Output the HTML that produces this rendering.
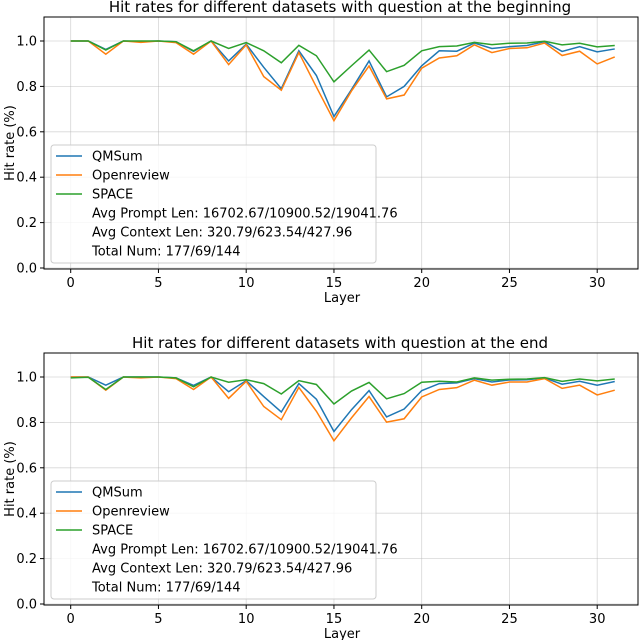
<!DOCTYPE html>
<html><head><meta charset="utf-8"><style>
body{margin:0;background:#fff}
svg{display:block;font-family:"DejaVu Sans","Liberation Sans",sans-serif}
</style></head><body>
<svg id="c" width="640" height="640"></svg>
<script>
const layers=[...Array(32).keys()];
const xTicks=[0,5,10,15,20,25,30];
const yTicks=[0,0.2,0.4,0.6,0.8,1.0];
const seriesNames=["QMSum","Openreview","SPACE"];
const colors=["#1f77b4","#ff7f0e","#2ca02c"];
const legendExtra=["Avg Prompt Len: 16702.67/10900.52/19041.76","Avg Context Len: 320.79/623.54/427.96","Total Num: 177/69/144"];
const begQMSum=[1,1,0.963,1,0.998,1,0.997,0.954,1,0.912,0.986,0.884,0.79,0.957,0.848,0.667,0.786,0.912,0.754,0.80,0.891,0.957,0.955,0.991,0.967,0.975,0.98,0.997,0.954,0.975,0.952,0.965];
const begOpen=[1,1,0.942,1,0.994,1,0.993,0.942,1,0.896,0.983,0.843,0.783,0.949,0.797,0.649,0.78,0.89,0.745,0.762,0.88,0.925,0.935,0.983,0.949,0.967,0.97,0.991,0.936,0.955,0.899,0.93];
const begSpace=[1,1,0.96,1,1,1,0.997,0.957,1,0.967,0.993,0.957,0.904,0.981,0.935,0.82,0.891,0.96,0.865,0.893,0.957,0.975,0.978,0.994,0.984,0.99,0.991,0.999,0.983,0.99,0.974,0.98];
const endQMSum=[1,1,0.964,1,1,1,0.996,0.963,1,0.935,0.984,0.914,0.846,0.971,0.902,0.76,0.856,0.94,0.824,0.859,0.94,0.971,0.974,0.993,0.978,0.987,0.988,0.996,0.968,0.981,0.964,0.98];
const endOpen=[1,1,0.942,1,0.996,1,0.993,0.945,1,0.906,0.981,0.87,0.812,0.954,0.849,0.719,0.82,0.914,0.801,0.816,0.912,0.945,0.953,0.986,0.964,0.978,0.978,0.993,0.95,0.964,0.921,0.942];
const endSpace=[0.996,0.999,0.945,1,1,1,0.996,0.957,1,0.977,0.988,0.971,0.925,0.984,0.967,0.881,0.938,0.976,0.904,0.927,0.977,0.981,0.978,0.996,0.986,0.99,0.991,0.997,0.981,0.991,0.983,0.991];

const NS="http://www.w3.org/2000/svg";
const svg=document.getElementById('c');
function mk(tag,attrs,parent){const e=document.createElementNS(NS,tag);for(const k in attrs)e.setAttribute(k,attrs[k]);(parent||svg).appendChild(e);return e;}

function chart(top,title,data,key){
  const L=44,R=638,T=top,B=top+252;
  const x0=70.7,dx=17.55;
  const X=v=>x0+v*dx;
  const Y=v=>B-1-v*227;
  const g=mk('g',{});
  
  
  xTicks.forEach(t=>{const l=mk('line',{x1:X(t),x2:X(t),y1:T,y2:B,stroke:'#b0b0b0','stroke-width':0.8,opacity:0.5},g);});
  yTicks.forEach(t=>{const l=mk('line',{x1:L,x2:R,y1:Y(t),y2:Y(t),stroke:'#b0b0b0','stroke-width':0.8,opacity:0.5},g);});
  data.forEach((d,i)=>{
    const p=mk('polyline',{points:d.map((v,j)=>X(layers[j])+','+Y(v)).join(' '),fill:'none',stroke:colors[i],'stroke-width':1.5},g);
    
    
  });
  const fr=mk('rect',{x:L,y:T,width:R-L,height:B-T,fill:'none',stroke:'#000','stroke-width':1},g);
  
  xTicks.forEach(t=>{mk('line',{x1:X(t),x2:X(t),y1:B,y2:B+4,stroke:'#000'},g);
    const tx=mk('text',{x:X(t),y:B+18,'font-size':13,'text-anchor':'middle'},g);tx.textContent=t;
    });
  yTicks.forEach(t=>{mk('line',{x1:L-4,x2:L,y1:Y(t),y2:Y(t),stroke:'#000'},g);
    const tx=mk('text',{x:L-7,y:Y(t)+4.5,'font-size':13,'text-anchor':'end'},g);tx.textContent=t.toFixed(1);
    });
  const ti=mk('text',{x:340,y:T-5,'font-size':15,'text-anchor':'middle'},g);ti.textContent=title;
  
  const xl=mk('text',{x:342,y:B+33,'font-size':13,'text-anchor':'middle'},g);xl.textContent='Layer';
  
  const yl=mk('text',{x:0,y:0,'font-size':13,'text-anchor':'middle',transform:`translate(14,${(T+B)/2}) rotate(-90)`},g);yl.textContent='Hit rate (%)';
  
  const lg=mk('g',{},g);
  
  const ly=T+128;
  mk('rect',{x:51,y:ly,width:325,height:118,rx:3,fill:'#fff','fill-opacity':0.8,stroke:'#ccc'},lg);
  const rows=seriesNames.concat(legendExtra);
  rows.forEach((r,i)=>{
    const cy=ly+11+i*19;
    if(i<3){const h=mk('line',{x1:56,x2:82,y1:cy,y2:cy,stroke:colors[i],'stroke-width':1.5},lg);
      }
    const t=mk('text',{x:92,y:cy+4.5,'font-size':13},lg);t.textContent=r;
    
  });
}
chart(17,'Hit rates for different datasets with question at the beginning',[begQMSum,begOpen,begSpace],'beginning');
chart(353,'Hit rates for different datasets with question at the end',[endQMSum,endOpen,endSpace],'end');
</script>
</body></html>
